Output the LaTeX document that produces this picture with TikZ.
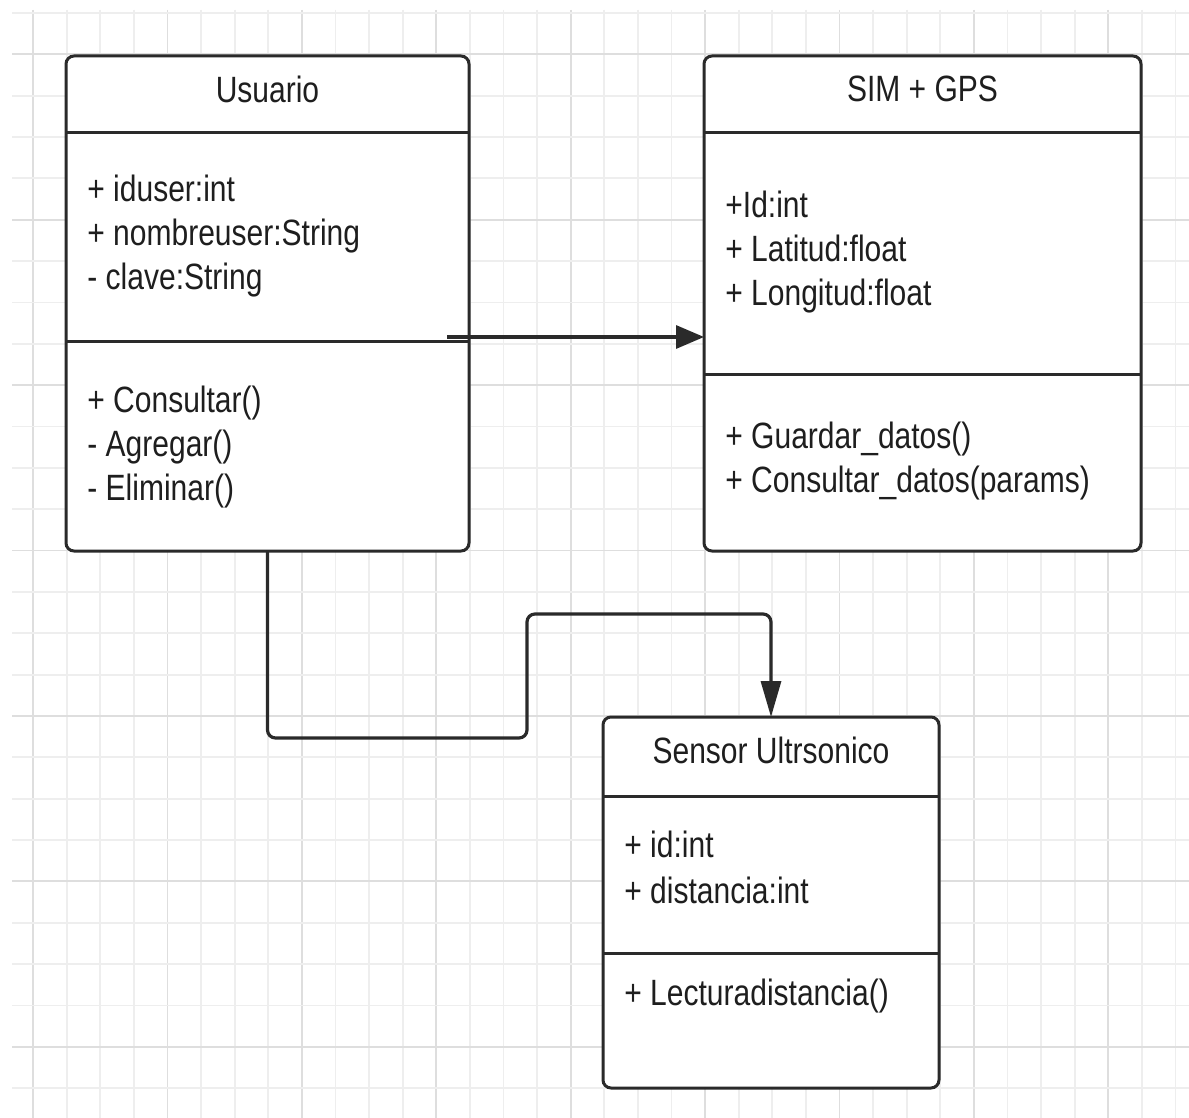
\documentclass[tikz,border=0pt]{standalone}
\usepackage{fontspec}
\setmainfont{Liberation Sans}[FakeStretch=0.82]
\usetikzlibrary{arrows.meta,calc}

\definecolor{gridminor}{HTML}{EEEEEE}
\definecolor{gridmajor}{HTML}{DEDEDE}
\definecolor{ink}{HTML}{2A2A2A}
\definecolor{txt}{HTML}{1E1E1E}

\tikzset{
  umlbox/.style={draw=ink, line width=1.5pt, fill=white, rounded corners=4pt,
                 inner sep=0pt, outer sep=0pt},
  umlline/.style={draw=ink, line width=1.5pt},
  title/.style={anchor=base, inner sep=0pt, text=txt,
                font=\fontsize{18.3}{22}\selectfont},
  member/.style={anchor=base west, inner sep=0pt, text=txt,
                 font=\fontsize{18.3}{22}\selectfont},
  conn/.style={draw=ink, line width=1.6pt},
  gminor/.style={draw=gridminor, line width=0.9pt},
  gmajor/.style={draw=gridmajor, line width=0.9pt}
}

\begin{document}
\begin{tikzpicture}[x=0.5pt,y=-0.5pt]
  \useasboundingbox (0,0) rectangle (1189,1118);
  \fill[white] (0,0) rectangle (1189,1118);

  % background grid: minor lines, then every fourth line darker
  \foreach \k in {0,...,34} {
    \pgfmathsetmacro{\gx}{33+33.6*\k}
    \pgfmathtruncatemacro{\m}{mod(\k,4)}
    \ifnum\m=0
      \draw[gmajor] (\gx,10) -- (\gx,1118);
    \else
      \draw[gminor] (\gx,10) -- (\gx,1118);
    \fi
  }
  \foreach \j in {0,...,26} {
    \pgfmathsetmacro{\gy}{13+41.35*\j}
    \pgfmathtruncatemacro{\m}{mod(\j,4)}
    \ifnum\m=1
      \draw[gmajor] (12,\gy) -- (1189,\gy);
    \else
      \draw[gminor] (12,\gy) -- (1189,\gy);
    \fi
  }

  % class Usuario
  \node[umlbox, minimum width=201.5pt, minimum height=247.5pt] (usuario) at (267.5,303.5) {};
  \draw[umlline] ([yshift=-38.5pt]usuario.north west) -- ([yshift=-38.5pt]usuario.north east);
  \draw[umlline] ([yshift=-143pt]usuario.north west) -- ([yshift=-143pt]usuario.north east);
  \node[title] (usuarioT) at (267.5,103) {Usuario};
  \node[member] (u1) at (87,202) {+ iduser:int};
  \node[member] (u2) at (87,246) {+ nombreuser:String};
  \node[member] (u3) at (87,290) {- clave:String};
  \node[member] (u4) at (87,412) {+ Consultar()};
  \node[member] (u5) at (87,456) {- Agregar()};
  \node[member] (u6) at (87,500) {- Eliminar()};

  % class SIM + GPS
  \node[umlbox, minimum width=218.5pt, minimum height=247.5pt] (sim) at (922.5,303.5) {};
  \draw[umlline] ([yshift=-38.5pt]sim.north west) -- ([yshift=-38.5pt]sim.north east);
  \draw[umlline] ([yshift=-159pt]sim.north west) -- ([yshift=-159pt]sim.north east);
  \node[title] (simT) at (922.5,102) {SIM + GPS};
  \node[member] (s1) at (725,218) {+Id:int};
  \node[member] (s2) at (725,262) {+ Latitud:float};
  \node[member] (s3) at (725,306) {+ Longitud:float};
  \node[member] (s4) at (725,448) {+ Guardar\_datos()};
  \node[member] (s5) at (725,492) {+ Consultar\_datos(params)};

  % class Sensor Ultrsonico
  \node[umlbox, minimum width=168pt, minimum height=185.5pt] (sensor) at (771,902.5) {};
  \draw[umlline] ([yshift=-39.5pt]sensor.north west) -- ([yshift=-39.5pt]sensor.north east);
  \draw[umlline] ([yshift=-118pt]sensor.north west) -- ([yshift=-118pt]sensor.north east);
  \node[title] (sensorT) at (771,763) {Sensor Ultrsonico};
  \node[member] (e1) at (624,857) {+ id:int};
  \node[member] (e2) at (624,903) {+ distancia:int};
  \node[member] (e3) at (624,1005) {+ Lecturadistancia()};

  % associations
  \coordinate (usrc) at (447,337);
  \draw[conn, -{Triangle[length=14pt,width=11.5pt]}] (usrc) -- (usrc -| sim.west);
  \draw[conn, rounded corners=4pt, -{Triangle[length=18pt,width=10pt]}]
    (usuario.south) |- (527,738) -- (527,614) -| (sensor.north);
\end{tikzpicture}
\end{document}
